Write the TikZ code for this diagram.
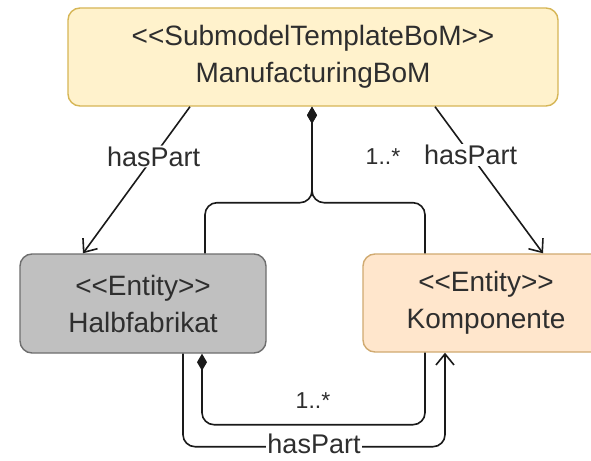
\documentclass[tikz,border=0pt]{standalone}
\usepackage{fontspec}
\setmainfont{Liberation Sans}
\usetikzlibrary{arrows.meta,calc}
\definecolor{topfill}{HTML}{FFF2CC}
\definecolor{topdraw}{HTML}{D6B656}
\definecolor{grayfill}{HTML}{C0C0C0}
\definecolor{graydraw}{HTML}{6E6E6E}
\definecolor{orfill}{HTML}{FFE6CC}
\definecolor{ordraw}{HTML}{D0AA70}
\definecolor{txt}{HTML}{2E2E2E}
\definecolor{ln}{HTML}{1A1A1A}
\tikzset{
  box/.style={rectangle, rounded corners=12pt, line width=1.4pt, inner sep=0pt, align=center,
    text=txt, font=\fontsize{28}{37}\selectfont},
  conn/.style={draw=ln, line width=1.6pt, rounded corners=12pt},
  openhead/.style={-{Straight Barb[length=11pt,width=18pt,line width=1.6pt]}},
  diamondtail/.style={{Diamond[length=17pt,width=10pt]}-},
  lbl/.style={text=txt, font=\fontsize{27}{30}\selectfont, inner sep=1pt},
  mult/.style={text=txt, font=\fontsize{23}{26}\selectfont, inner sep=0pt},
}
\begin{document}
\begin{tikzpicture}[x=1pt,y=-1pt]
\clip (0,0) rectangle (591,460);
\fill[white] (0,0) rectangle (591,460);
\node[box, fill=topfill, draw=topdraw, minimum width=490pt, minimum height=98pt] (top) at (313,57)
  {<{}<SubmodelTemplateBoM>{}>\\ManufacturingBoM};
\node[box, fill=grayfill, draw=graydraw, minimum width=246pt, minimum height=99pt] (halb) at (143,303.5)
  {<{}<Entity>{}>\\Halbfabrikat};
\node[box, fill=orfill, draw=ordraw, minimum width=246pt, minimum height=98pt] (komp) at (486,303)
  {<{}<Entity>{}>\\Komponente};
% hasPart top-left
\draw[conn, openhead] ([xshift=-123pt]top.south) -- node[lbl, fill=white, pos=0.34] {hasPart} ([xshift=-60pt]halb.north);
% hasPart top-right
\draw[conn, openhead] ([xshift=122pt]top.south) -- node[lbl, fill=white, pos=0.33] {hasPart} ([xshift=57pt]komp.north);
% composition from top
\draw[conn, diamondtail] ([xshift=-1pt]top.south) -- ([xshift=-1pt,yshift=-96pt]top.south) -| ([xshift=62pt]halb.north);
\draw[conn, diamondtail] ([xshift=-1pt]top.south) -- ([xshift=-1pt,yshift=-96pt]top.south) -| ([xshift=-61pt]komp.north);
\node[mult] (m1) at (383,157) {1..*};
% composition bottom
\draw[conn, diamondtail] ([xshift=59pt]halb.south) |- ([xshift=-61pt,yshift=-72pt]komp.south) -- ([xshift=-61pt]komp.south);
\node[mult] (m2) at (313,401) {1..*};
% hasPart bottom
\draw[conn, openhead] ([xshift=40pt]halb.south) |- ([xshift=-41pt,yshift=-94pt]komp.south) -- ([xshift=-41pt]komp.south);
\node[lbl, fill=white, anchor=base, inner ysep=0pt] (hp3) at (314,453) {hasPart};
\end{tikzpicture}
\end{document}
